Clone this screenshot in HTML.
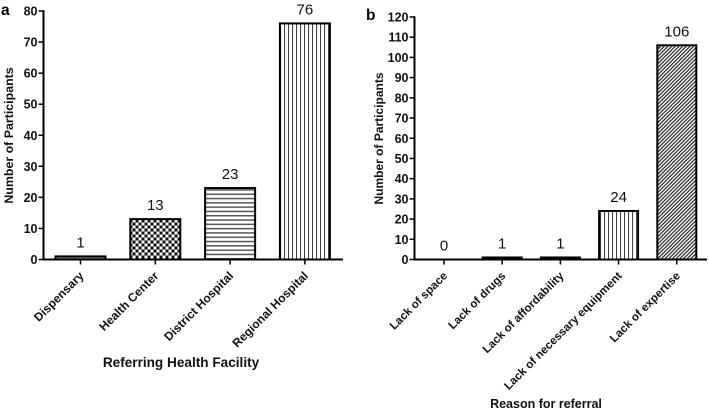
<!DOCTYPE html>
<html>
<head>
<meta charset="utf-8">
<style>
html,body{margin:0;padding:0;background:#fff;width:709px;height:409px;overflow:hidden}
svg{display:block;font-family:"Liberation Sans",Arial,sans-serif}
.tick{font-weight:bold;font-size:12.5px;fill:#111}
.title{font-weight:bold;font-size:12.5px;fill:#111}
.val{font-size:15px;fill:#111}
.panel{font-weight:bold;font-size:15.5px;fill:#000}
</style>
</head>
<body>
<svg id="chart" width="709" height="409" viewBox="0 0 709 409" xmlns="http://www.w3.org/2000/svg">
<defs>
<pattern id="p-check" width="6" height="6" patternUnits="userSpaceOnUse" x="0.5" y="0.5"><rect width="6" height="6" fill="#fff"/><rect width="3" height="3" fill="#111"/><rect x="3" y="3" width="3" height="3" fill="#111"/></pattern>
<pattern id="p-horiz" width="4" height="4.3" patternUnits="userSpaceOnUse"><rect width="4" height="4.3" fill="#fff"/><rect width="4" height="1.5" fill="#555"/></pattern>
<pattern id="p-vert" width="4" height="4" patternUnits="userSpaceOnUse"><rect width="4" height="4" fill="#fff"/><rect width="1.1" height="4" fill="#444"/></pattern>
<pattern id="p-diag" width="2.6" height="2.6" patternUnits="userSpaceOnUse" patternTransform="rotate(-45)"><rect width="2.6" height="2.6" fill="#fff"/><rect width="2.6" height="1.3" fill="#333"/></pattern>
<pattern id="p-dots" width="3" height="3" patternUnits="userSpaceOnUse"><rect width="3" height="3" fill="#777"/></pattern>
</defs>
</svg>
<script>
var categoriesA = ['Dispensary', 'Health Center', 'District Hospital', 'Regional Hospital'];
var valuesA = [1, 13, 23, 76];
var fillsA = ['p-dots', 'p-check', 'p-horiz', 'p-vert'];
var ticksA = [0, 10, 20, 30, 40, 50, 60, 70, 80];
var categoriesB = ['Lack of space', 'Lack of drugs', 'Lack of affordability', 'Lack of necessary equipment', 'Lack of expertise'];
var valuesB = [0, 1, 1, 24, 106];
var fillsB = ['p-dots', 'p-dots', 'p-dots', 'p-vert', 'p-diag'];
var ticksB = [0, 10, 20, 30, 40, 50, 60, 70, 80, 90, 100, 110, 120];

var svg = document.getElementById('chart');
var NS = 'http://www.w3.org/2000/svg';

function make(tag, attrs, text) {
  var el = document.createElementNS(NS, tag);
  for (var k in attrs) el.setAttribute(k, attrs[k]);
  if (text !== undefined) el.textContent = text;
  svg.appendChild(el);
  return el;
}

function drawPanel(cfg) {
  var yOf = function (v) { return cfg.y0 + (cfg.yTop - cfg.y0) * v / cfg.max; };
  var xOf = function (i) { return cfg.first + i * cfg.step; };

  cfg.values.forEach(function (v, i) {
    var top = yOf(v);
    if (v > 0) {
      var bar = make('rect', {
        x: xOf(i) - cfg.barW / 2, y: top, width: cfg.barW, height: cfg.y0 - top,
        fill: 'url(#' + cfg.fills[i] + ')', stroke: '#000', 'stroke-width': 2
      });
      
      
    }
    var val = make('text', { x: xOf(i), y: top - 9, 'text-anchor': 'middle', 'class': 'val' }, String(v));
    
    

    var tick = make('line', { x1: xOf(i), x2: xOf(i), y1: cfg.y0, y2: cfg.y0 + 5, stroke: '#000', 'stroke-width': 1.5 });
    
    

    var lx = xOf(i) + 4, ly = cfg.y0 + 17;
    var lab = make('text', { x: lx, y: ly, 'text-anchor': 'end', 'class': 'tick', 'font-size': cfg.labelSize, style: 'font-size:' + cfg.labelSize + 'px', transform: 'rotate(-45 ' + lx + ' ' + ly + ')' }, cfg.categories[i]);
    
    
  });

  cfg.ticks.forEach(function (t) {
    var y = yOf(t);
    var tk = make('line', { x1: cfg.axisX - 5, x2: cfg.axisX, y1: y, y2: y, stroke: '#000', 'stroke-width': 1.5 });
    
    
    var tl = make('text', { x: cfg.axisX - 6, y: y + 4.5, 'text-anchor': 'end', 'class': 'tick' }, String(t));
    
    
  });

  var yAxis = make('line', { x1: cfg.axisX, x2: cfg.axisX, y1: cfg.yTop - 0.75, y2: cfg.y0 + 1, stroke: '#000', 'stroke-width': 2 });
  
  
  var xAxis = make('line', { x1: cfg.axisX, x2: cfg.xEnd, y1: cfg.y0, y2: cfg.y0, stroke: '#000', 'stroke-width': 2 });
  
  

  var yt = make('text', { x: cfg.yTitleX, y: cfg.yTitleY, 'text-anchor': 'middle', 'class': 'title', style: 'font-size:' + cfg.yTitleSize + 'px', transform: 'rotate(-90 ' + cfg.yTitleX + ' ' + cfg.yTitleY + ')' }, 'Number of Participants');
  
  
  var xt = make('text', { x: cfg.xTitleX, y: cfg.xTitleY, 'text-anchor': 'middle', 'class': 'title', style: 'font-size:' + cfg.xTitleSize + 'px' }, cfg.xTitle);
  
  
  var pl = make('text', { x: cfg.panelX, y: cfg.panelY, 'class': 'panel' }, cfg.id);
  
  
}

drawPanel({
  id: 'a', categories: categoriesA, values: valuesA, fills: fillsA, ticks: ticksA,
  max: 80, y0: 259.5, yTop: 11, axisX: 43.5, xEnd: 343, first: 80.5, step: 74.8, barW: 50,
  labelSize: 12, yTitleSize: 12.4, xTitleSize: 13.6,
  yTitleX: 13, yTitleY: 135.5, xTitle: 'Referring Health Facility', xTitleX: 181, xTitleY: 367,
  panelX: 1, panelY: 15
});
drawPanel({
  id: 'b', categories: categoriesB, values: valuesB, fills: fillsB, ticks: ticksB,
  max: 120, y0: 259.5, yTop: 17, axisX: 414.5, xEnd: 707, first: 444, step: 58.2, barW: 39,
  labelSize: 11.5, yTitleSize: 12, xTitleSize: 12.5,
  yTitleX: 383, yTitleY: 138.5, xTitle: 'Reason for referral', xTitleX: 546, xTitleY: 408,
  panelX: 366, panelY: 20
});
</script>
</body>
</html>
